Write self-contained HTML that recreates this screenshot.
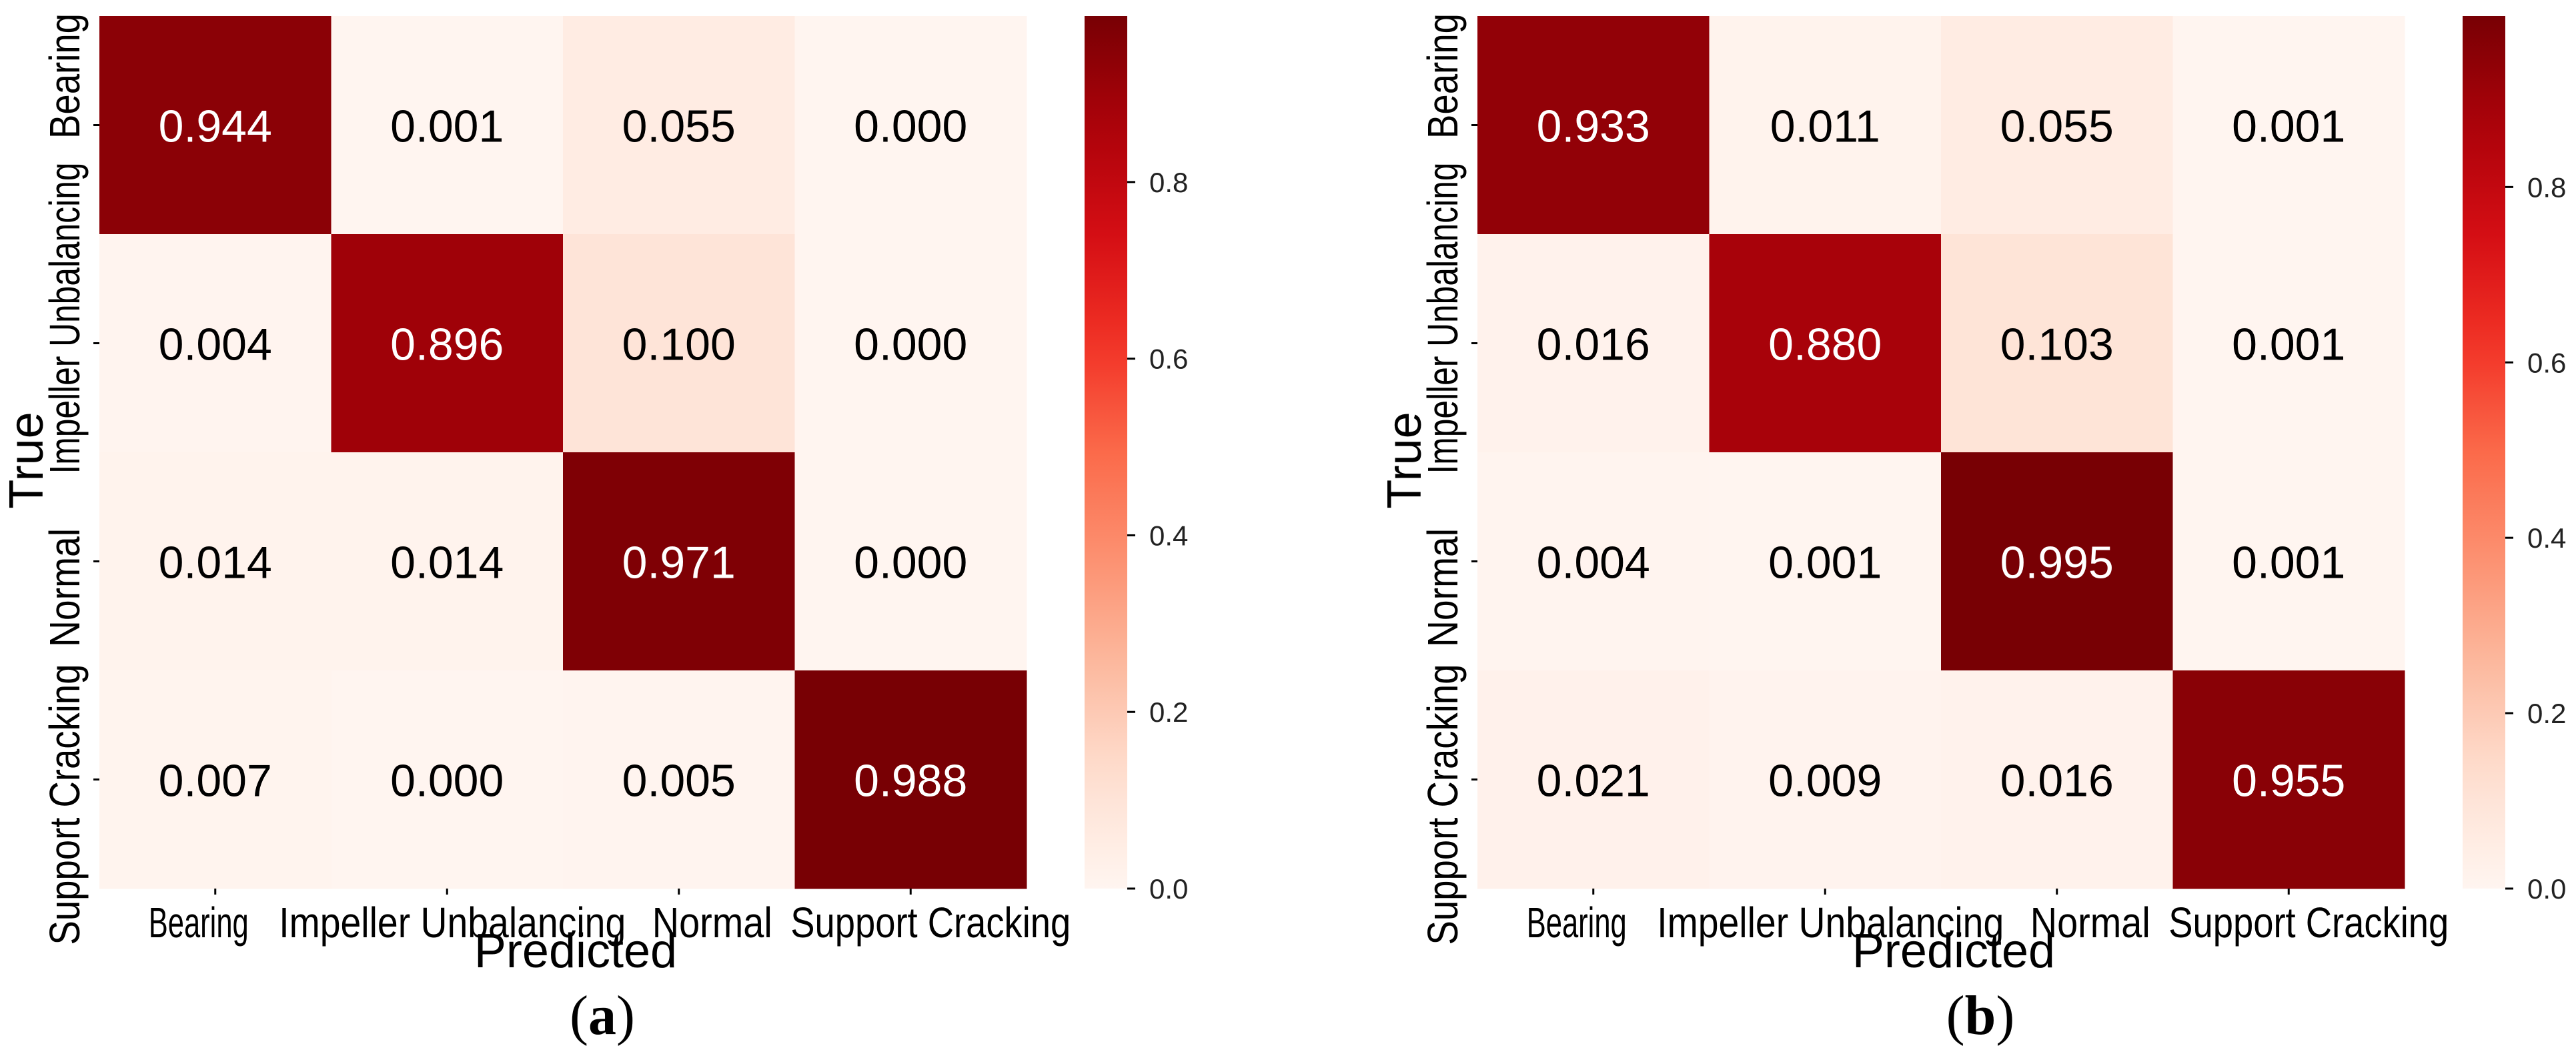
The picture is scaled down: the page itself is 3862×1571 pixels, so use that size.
<!DOCTYPE html>
<html><head><meta charset="utf-8"><style>
html,body{margin:0;padding:0;background:#fff;}
svg{display:block;}
text{font-family:"Liberation Sans",sans-serif;}
</style></head>
<body>
<svg id="fig" width="3862" height="1571" viewBox="0 0 3862 1571" xmlns="http://www.w3.org/2000/svg"></svg>
<script>
const categories = ["Bearing","Impeller Unbalancing","Normal","Support Cracking"];
const valuesA = [
  [0.944,0.001,0.055,0.000],
  [0.004,0.896,0.100,0.000],
  [0.014,0.014,0.971,0.000],
  [0.007,0.000,0.005,0.988]
];
const valuesB = [
  [0.933,0.011,0.055,0.001],
  [0.016,0.880,0.103,0.001],
  [0.004,0.001,0.995,0.001],
  [0.021,0.009,0.016,0.955]
];
const colorbarTicks = [0.0,0.2,0.4,0.6,0.8];
const panelLabels = ["(a)","(b)"];

const NS="http://www.w3.org/2000/svg";
const svg=document.getElementById('fig');
function el(tag,attrs,parent){const e=document.createElementNS(NS,tag);for(const k in attrs)e.setAttribute(k,attrs[k]);(parent||svg).appendChild(e);return e;}
const stops=[[255,245,240],[254,224,210],[252,187,161],[252,146,114],[251,106,74],[242,50,38],[212,14,20],[172,2,10],[120,0,4]];
function reds(t){t=Math.max(0,Math.min(1,t));const p=t*8;const i=Math.min(7,Math.floor(p));const f=p-i;const a=stops[i],b=stops[i+1];
 return 'rgb('+a.map((v,k)=>Math.round(v+(b[k]-v)*f)).join(',')+')';}

function drawPanel(values,x0,label,idx){
  const g=el('g',{});
  
  
  const W=1390,H=1308,y0=24,n=categories.length,cw=W/n,ch=H/n;
  const vmax=Math.max(...values.flat()),vmin=0;
  const xS=j=>x0+cw*(j+0.5), yS=i=>y0+ch*(i+0.5);
  values.forEach((row,i)=>row.forEach((v,j)=>{
    const r=el('rect',{x:x0+cw*j,y:y0+ch*i,width:cw+0.5,height:ch+0.5,fill:reds((v-vmin)/(vmax-vmin))},g);
    
    
    const t=el('text',{x:xS(j),y:yS(i)+25,'text-anchor':'middle','font-size':68,fill:(v/vmax>0.5)?'#fff':'#000'},g);
    
    
    t.textContent=v.toFixed(3);
  }));
  categories.forEach((c,j)=>{
    el('line',{x1:xS(j),x2:xS(j),y1:y0+H,y2:y0+H+9,stroke:'#000','stroke-width':3},g);
    const t=el('text',{x:xS(j)-(j==0?25:j==1?-8:j==2?-50:-30),y:1405,'text-anchor':'middle','font-size':64,textLength:[150,520,180,420][j],lengthAdjust:'spacingAndGlyphs'},g);
    
    
    t.textContent=c;
  });
  const yCenters=[114,477,881,1206], yLens=[188,467,178,421];
  categories.forEach((c,i)=>{
    el('line',{x1:x0-9,x2:x0,y1:yS(i),y2:yS(i),stroke:'#000','stroke-width':3},g);
    const cx=x0-52;
    const t=el('text',{x:cx,y:yCenters[i],'text-anchor':'middle','font-size':64,transform:'rotate(-90 '+cx+' '+yCenters[i]+')',dy:22,textLength:yLens[i],lengthAdjust:'spacingAndGlyphs'},g);
    
    
    t.textContent=c;
  });
  const tx=x0-110,ty=690;
  const yt=el('text',{x:tx,y:ty,'text-anchor':'middle','font-size':72,dy:25,transform:'rotate(-90 '+tx+' '+ty+')'},g);
  
  
  yt.textContent='True';
  const xt=el('text',{x:x0+714,y:1450,'text-anchor':'middle','font-size':72},g);
  
  
  xt.textContent='Predicted';
  const cbx=x0+W+87,cbw=64;
  const defs=el('defs',{},g);
  const gid='grad'+idx;
  const lg=el('linearGradient',{id:gid,x1:0,y1:1,x2:0,y2:0},defs);
  for(let k=0;k<=20;k++){el('stop',{offset:k/20,'stop-color':reds(k/20)},lg);}
  const cb=el('rect',{x:cbx,y:y0,width:cbw,height:H,fill:'url(#'+gid+')'},g);
  
  
  const cS=v=>y0+H-(v-vmin)/(vmax-vmin)*H;
  colorbarTicks.forEach(v=>{
    el('line',{x1:cbx+cbw,x2:cbx+cbw+12,y1:cS(v),y2:cS(v),stroke:'#000','stroke-width':3},g);
    const t=el('text',{x:cbx+cbw+33,y:cS(v)+15,'font-size':42,fill:'#222'},g);
    
    
    t.textContent=v.toFixed(1);
  });
  const pl=el('text',{x:x0+754,y:1550,'text-anchor':'middle','font-size':84,style:'font-family:"Liberation Serif",serif'},g);
  
  
  pl.innerHTML=label.replace(/\((\w)\)/,'(<tspan font-weight="bold">$1</tspan>)');
}
drawPanel(valuesA,149,panelLabels[0],0);
drawPanel(valuesB,2215,panelLabels[1],1);
</script>
</body></html>
